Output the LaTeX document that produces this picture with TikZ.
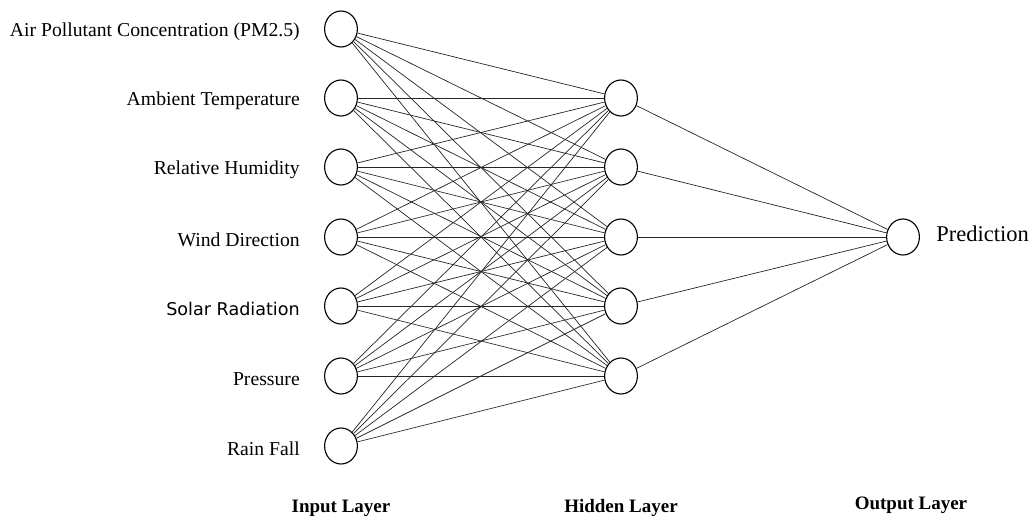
\documentclass[tikz,border=0pt]{standalone}
\usepackage{fontspec}
\setmainfont{Liberation Serif}
\newfontfamily\solarfont{DejaVu Sans}
\usepackage{tikz}
\usetikzlibrary{positioning}

\tikzset{
	neuron/.style={ellipse, draw, line width=0.8pt, minimum width=0.82cm, minimum height=0.9cm, inner sep=0pt},
	inlabel/.style={left=0.6cm of #1, yshift=-2pt, font=\fontsize{14}{16}\selectfont, inner sep=0pt},
	layerlabel/.style={font=\fontsize{13.5}{16}\selectfont\bfseries},
	link/.style={draw=black!85, line width=0.5pt}
}
\usetikzlibrary{shapes.geometric}

\begin{document}
\begin{tikzpicture}[x=0.025cm, y=-0.025cm]
		\useasboundingbox (0, 0) rectangle (1031, 521);
		% Input layer:
		\node[neuron] (I1) at (341, 29) {};
		\node[neuron] (I2) at (341, 98) {};
		\node[neuron] (I3) at (341, 167) {};
		\node[neuron] (I4) at (341, 237) {};
		\node[neuron] (I5) at (341, 306) {};
		\node[neuron] (I6) at (341, 376) {};
		\node[neuron] (I7) at (341, 446) {};
		% Hidden layer:
		\node[neuron] (H1) at (621, 98) {};
		\node[neuron] (H2) at (621, 167) {};
		\node[neuron] (H3) at (621, 237) {};
		\node[neuron] (H4) at (621, 306) {};
		\node[neuron] (H5) at (621, 376) {};
		% Output layer:
		\node[neuron] (O1) at (903, 237) {};
		% Labels:
		\node[inlabel=I1] (L1) {Air Pollutant Concentration (PM2.5)};
		\node[inlabel=I2] (L2) {Ambient Temperature};
		\node[inlabel=I3] (L3) {Relative Humidity};
		\node[inlabel=I4] (L4) {Wind Direction};
		\node[inlabel=I5, font=\solarfont\fontsize{12.5}{14}\selectfont] (L5) {Solar Radiation};
		\node[inlabel=I6] (L6) {Pressure};
		\node[inlabel=I7] (L7) {Rain Fall};
		\node[right=0.4cm of O1, yshift=2pt, font=\fontsize{16}{19}\selectfont, inner sep=0pt] (P1) {Prediction};
		\node[layerlabel] (T1) at (341, 508) {Input Layer};
		\node[layerlabel] (T2) at (621, 508) {Hidden Layer};
		\node[layerlabel] (T3) at (911, 505) {Output Layer};
		% Connections:
		\foreach \i in {1,...,7}
			\foreach \h in {1,...,5}
				\draw[link] (I\i) -- (H\h);
		\foreach \h in {1,...,5}
			\draw[link] (H\h) -- (O1);
	\end{tikzpicture}
\end{document}
